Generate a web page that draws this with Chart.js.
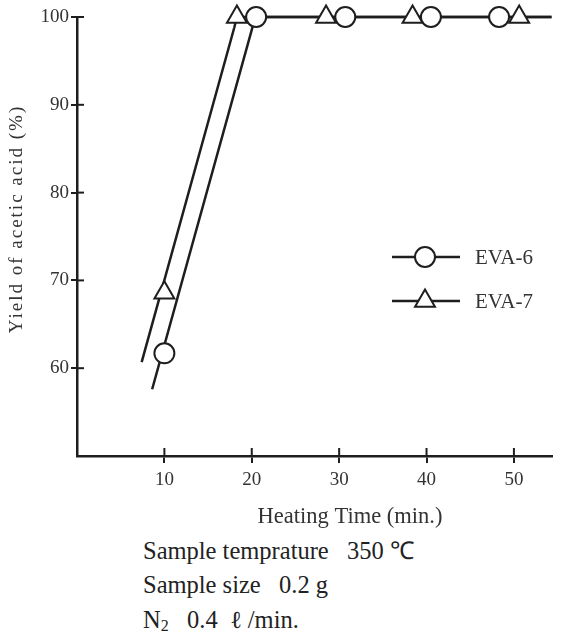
<!DOCTYPE html>
<html><head><meta charset="utf-8">
<script src="https://cdn.jsdelivr.net/npm/chart.js@4.4.1/dist/chart.umd.min.js"></script>
<style>
html,body{margin:0;padding:0;background:#fff;width:565px;height:640px;overflow:hidden;}
#wrap{position:relative;width:565px;height:640px;}
#c{position:absolute;left:0;top:0;}
.note{position:absolute;left:143px;font-family:"Liberation Serif",serif;font-size:24.5px;color:#222;white-space:pre;line-height:28px;}
</style></head><body>
<div id="wrap">
<canvas id="c" width="565" height="535"></canvas>
<div class="note" style="top:537px">Sample temprature   350 ℃</div>
<div class="note" style="top:571px">Sample size   0.2 g</div>
<div class="note" style="top:606px">N<sub style="font-size:16px;vertical-align:-3px">2</sub>   0.4  ℓ /min.</div>
</div>
<script>
// ---- data ----
const seriesNames = ["EVA-6", "EVA-7"];
const eva6Time  = [10, 20.5, 30.7, 40.5, 48.3];
const eva6Yield = [61.7, 100, 100, 100, 100];
const eva7Time  = [10, 18.3, 28.5, 38.4, 50.6];
const eva7Yield = [68.6, 100, 100, 100, 100];
// drawn trend lines
const eva6LineTime  = [8.6, 20.1, 20.5, 54.3];
const eva6LineYield = [57.6, 98.9, 100, 100];
const eva7LineTime  = [7.4, 18.0, 18.3, 54.3];
const eva7LineYield = [60.7, 98.8, 100, 100];
const xTicks = [10, 20, 30, 40, 50];
const yTicks = [60, 70, 80, 90, 100];
const xTitle = "Heating Time (min.)";
const yTitle = "Yield of acetic acid (%)";

const INK = '#1e1e1e';
const pts = (xs, ys) => xs.map((x, i) => ({x, y: ys[i]}));

const crossTicks = {
  id: 'crossTicks',
  afterDraw(chart) {
    const {ctx, scales: {x, y}, chartArea: a} = chart;
    ctx.save();
    ctx.strokeStyle = INK; ctx.lineWidth = 2;
    yTicks.forEach(v => { const py = y.getPixelForValue(v); ctx.beginPath(); ctx.moveTo(a.left, py); ctx.lineTo(a.left + 7, py); ctx.stroke(); });
    xTicks.forEach(v => { const px = x.getPixelForValue(v); ctx.beginPath(); ctx.moveTo(px, a.bottom); ctx.lineTo(px, a.bottom - 8); ctx.stroke(); });
    // axis titles
    ctx.fillStyle = '#333';
    ctx.font = '22.5px "Liberation Serif"';
    ctx.textAlign = 'center'; ctx.textBaseline = 'middle';
    ctx.fillText(xTitle, 350, 517);
    ctx.translate(17, 219); ctx.rotate(-Math.PI / 2);
    ctx.font = '19px "Liberation Serif"';
    try { ctx.letterSpacing = '2px'; } catch (e) {}
    ctx.fillText(yTitle, 0, 0);
    ctx.restore();
    // legend
    ctx.save();
    const rows = [{y: 257, style: 'circle'}, {y: 301, style: 'triangle'}];
    rows.forEach((r, i) => {
      ctx.strokeStyle = INK; ctx.lineWidth = 2.5;
      ctx.beginPath(); ctx.moveTo(392, r.y); ctx.lineTo(460, r.y); ctx.stroke();
      ctx.fillStyle = '#fff'; ctx.lineWidth = 2;
      ctx.beginPath();
      if (r.style === 'circle') { ctx.arc(425, r.y, 10, 0, Math.PI * 2); }
      else { const R = 11.5; ctx.moveTo(425, r.y - R); ctx.lineTo(425 + R * 0.866, r.y + R / 2); ctx.lineTo(425 - R * 0.866, r.y + R / 2); ctx.closePath(); }
      ctx.fill(); ctx.stroke();
      ctx.fillStyle = '#333'; ctx.font = '21px "Liberation Serif"';
      ctx.textAlign = 'left'; ctx.textBaseline = 'middle';
      ctx.fillText(seriesNames[i], 475, r.y + 1);
    });
    ctx.restore();
  }
};

new Chart(document.getElementById('c'), {
  type: 'scatter',
  data: {
    datasets: [
      {label: seriesNames[0] + ' line', data: pts(eva6LineTime, eva6LineYield), showLine: true, borderColor: INK, borderWidth: 2.5, pointRadius: 0, order: 2, clip: false},
      {label: seriesNames[1] + ' line', data: pts(eva7LineTime, eva7LineYield), showLine: true, borderColor: INK, borderWidth: 2.5, pointRadius: 0, order: 2, clip: false},
      {label: seriesNames[0], data: pts(eva6Time, eva6Yield), pointStyle: 'circle', pointRadius: 10, pointBorderWidth: 2, pointBorderColor: INK, pointBackgroundColor: '#fff', order: 1, clip: false},
      {label: seriesNames[1], data: pts(eva7Time, eva7Yield), pointStyle: 'triangle', pointRadius: 11.5, pointBorderWidth: 2, pointBorderColor: INK, pointBackgroundColor: '#fff', order: 1, clip: false}
    ]
  },
  options: {
    responsive: false, animation: false,
    layout: {padding: {left: 0, right: 10, top: 17, bottom: 0}},
    plugins: {legend: {display: false}, tooltip: {enabled: false}},
    scales: {
      x: {
        type: 'linear', min: 0, max: 54.3,
        afterFit: s => { s.height = 79; },
        afterBuildTicks: s => { s.ticks = xTicks.map(v => ({value: v})); },
        ticks: {color: '#333', font: {family: 'Liberation Serif', size: 19}, padding: 6},
        grid: {drawOnChartArea: false, drawTicks: true, tickLength: 7, color: INK, tickColor: INK, lineWidth: 2},
        border: {display: true, color: INK, width: 2.5}
      },
      y: {
        type: 'linear', min: 50, max: 100,
        afterFit: s => { s.width = 77; },
        afterBuildTicks: s => { s.ticks = yTicks.map(v => ({value: v})); },
        ticks: {color: '#333', font: {family: 'Liberation Serif', size: 19}, padding: 2},
        grid: {drawOnChartArea: false, drawTicks: true, tickLength: 6, color: INK, tickColor: INK, lineWidth: 2},
        border: {display: true, color: INK, width: 2.5}
      }
    }
  },
  plugins: [crossTicks]
});
</script>
</body></html>
